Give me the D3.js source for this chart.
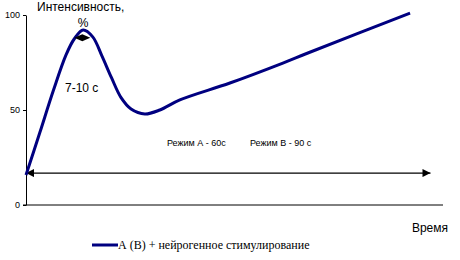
<!DOCTYPE html>
<html><head><meta charset="utf-8">
<script src="https://cdn.jsdelivr.net/npm/d3@7"></script>
<style>body{margin:0;background:#fff}svg{display:block}</style>
</head><body>
<script>
// Data
const times = [0, 3.3, 6.6, 9.6, 11.6, 13.7, 16.0, 18.2, 20.5, 22.8, 25.2, 28.5, 32.1, 36.9, 48.9, 61.6, 67.6, 92.1];
const intensity = [15.8, 38, 60.5, 79, 87.5, 92.1, 88.5, 78.5, 67, 56.5, 50.5, 47.9, 50, 55.3, 64.2, 74.7, 80, 101];
const yTicks = [0, 50, 100];
const arrowSpan = [0, 97];
const arrowLevel = 16.8;
const peakMark = [13.5, 88];
const seriesName = "А (В) + нейрогенное стимулирование";
const yTitle1 = "Интенсивность,";
const yTitle2 = "%";
const xTitle = "Время";
const peakLabel = "7-10 с";
const modeLabels = ["Режим А - 60с", "Режим В - 90 с"];

const W = 460, H = 260;
const svg = d3.select("body").append("svg").attr("width", W).attr("height", H);
const x = d3.scaleLinear().domain([0, 100]).range([26, 443]);
const y = d3.scaleLinear().domain([0, 100]).range([205, 15]);

// axes
const yAxis = d3.axisLeft(y).tickValues(yTicks).tickSize(3).tickSizeOuter(0);
const gy = svg.append("g").attr("transform", "translate(26,0)").call(yAxis);
gy.select(".domain").attr("stroke", "#000");
gy.selectAll("text").attr("font-family", "Arial, Liberation Sans, sans-serif").attr("font-size", 9).attr("fill", "#000").attr("x", -6);
svg.append("line").attr("x1", 23).attr("x2", x(100)).attr("y1", y(0)).attr("y2", y(0)).attr("stroke", "#000");

// arrow markers
const defs = svg.append("defs");
defs.append("marker").attr("id", "ah").attr("viewBox", "0 0 10 10").attr("refX", 10).attr("refY", 5)
  .attr("markerWidth", 10).attr("markerHeight", 8).attr("markerUnits", "userSpaceOnUse").attr("orient", "auto-start-reverse")
  .append("path").attr("d", "M0,0L10,5L0,10Z").attr("fill", "#000");

svg.append("line").attr("x1", x(arrowSpan[0])).attr("x2", x(arrowSpan[1]))
  .attr("y1", y(arrowLevel)).attr("y2", y(arrowLevel))
  .attr("stroke", "#000").attr("stroke-width", 1.3)
  .attr("marker-start", "url(#ah)").attr("marker-end", "url(#ah)");

// curve
const pts = times.map((t, i) => [t, intensity[i]]);
const line = d3.line().x(d => x(d[0])).y(d => y(d[1])).curve(d3.curveCatmullRom.alpha(0.5));
svg.append("path").attr("d", line(pts)).attr("fill", "none").attr("stroke", "#000080").attr("stroke-width", 3);

// peak double arrow
const px = x(peakMark[0]), py = y(peakMark[1]);
svg.append("path").attr("d", `M${px-8},${py}L${px},${py-3.5}L${px+8},${py}L${px},${py+3.5}Z`).attr("fill", "#000");

// texts
const sans = "Arial, Liberation Sans, sans-serif";
svg.append("text").attr("x", 37).attr("y", 11).attr("font-family", sans).attr("font-size", 12).text(yTitle1);
svg.append("text").attr("x", x(13.7)).attr("y", 27).attr("text-anchor", "middle").attr("font-family", sans).attr("font-size", 12).text(yTitle2);
svg.append("text").attr("x", 65).attr("y", 92).attr("font-family", sans).attr("font-size", 12).text(peakLabel);
svg.append("text").attr("x", 167).attr("y", 146).attr("font-family", sans).attr("font-size", 9).text(modeLabels[0]);
svg.append("text").attr("x", 250).attr("y", 146).attr("font-family", sans).attr("font-size", 9).text(modeLabels[1]);
svg.append("text").attr("x", 448).attr("y", 232).attr("text-anchor", "end").attr("font-family", sans).attr("font-size", 12).text(xTitle);

// legend
svg.append("line").attr("x1", 92).attr("x2", 118).attr("y1", 245).attr("y2", 245).attr("stroke", "#000080").attr("stroke-width", 3);
svg.append("text").attr("x", 118).attr("y", 249).attr("font-family", "Liberation Serif, Times New Roman, serif").attr("font-size", 12).text(seriesName);
</script>
</body></html>
